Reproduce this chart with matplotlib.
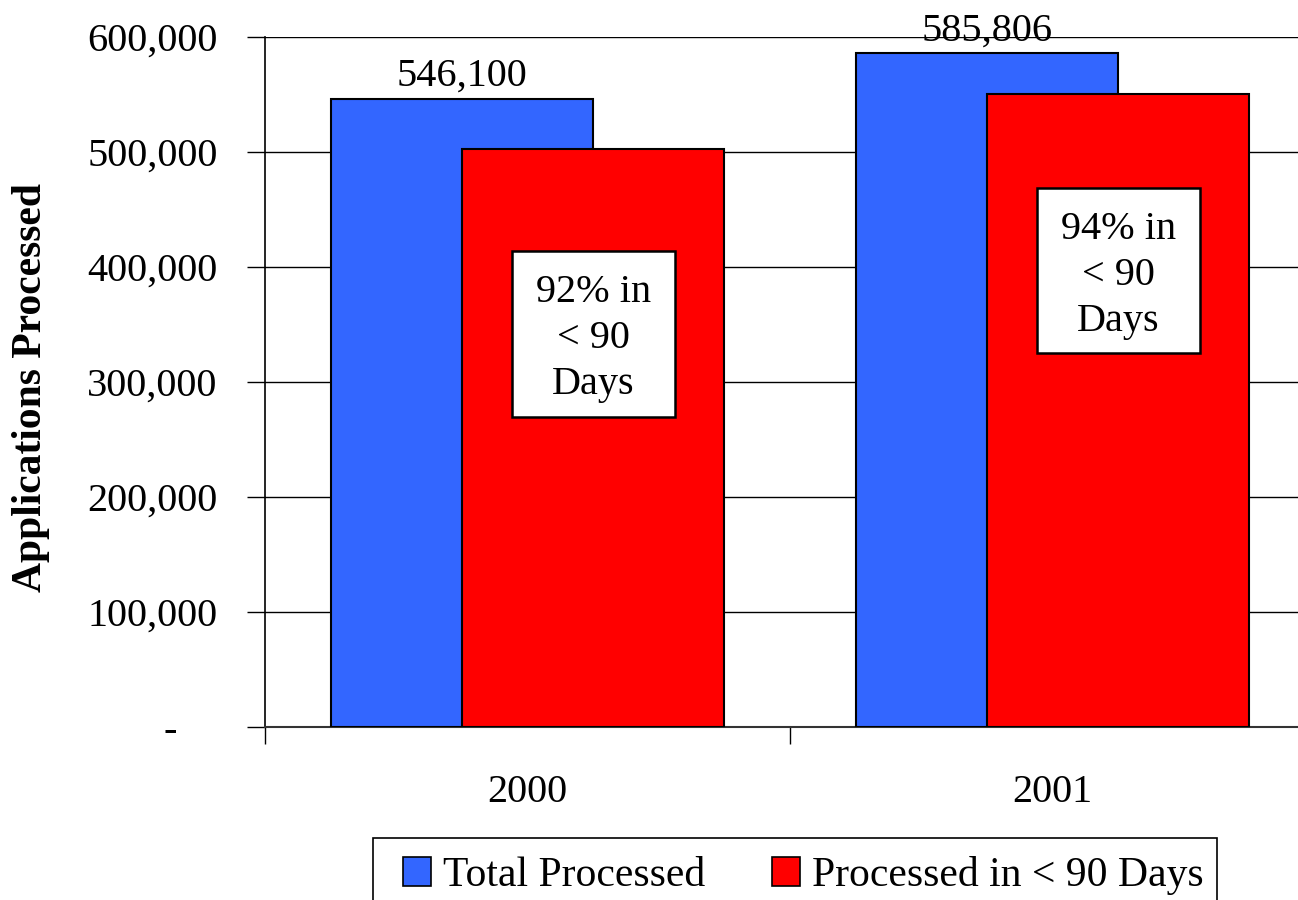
import matplotlib
matplotlib.use("Agg")
import matplotlib.pyplot as plt
from matplotlib.patches import Patch, Rectangle
from matplotlib.ticker import FixedLocator

plt.rcParams['font.family'] = ['Liberation Serif', 'DejaVu Serif']

categories = ["2000", "2001"]
total_processed = [546100, 585806]
processed_90 = [502400, 550700]
pct_labels = ["92% in\n< 90\nDays", "94% in\n< 90\nDays"]
pct_label_y = [342000, 397000]
yticks = [0, 100000, 200000, 300000, 400000, 500000, 600000]
ytick_labels = ["-    ", "100,000", "200,000", "300,000", "400,000", "500,000", "600,000"]

blue = "#3366FF"
red = "#FF0000"
FS = 29

W, H = 1298, 900
fig = plt.figure(figsize=(W / 100, H / 100), dpi=100)
ax = fig.add_axes([265 / W, 1 - 727 / H, 1050 / W, 690 / H])

x = list(range(len(categories)))
bw = 0.5
off = 0.125
ax.bar([i - off for i in x], total_processed, width=bw, color=blue,
       edgecolor="black", linewidth=1.5, zorder=3)
ax.bar([i + off for i in x], processed_90, width=bw, color=red,
       edgecolor="black", linewidth=1.5, zorder=4)

for i, v in zip(x, total_processed):
    ax.annotate(f"{v:,}", (i - off, v), xytext=(0, 3), textcoords="offset points",
                ha="center", va="bottom", fontsize=FS, zorder=6, annotation_clip=False)

box_w = 0.31
box_h = 144000
for i, (t, yy) in enumerate(zip(pct_labels, pct_label_y)):
    ax.add_patch(Rectangle((i + off - box_w / 2, yy - box_h / 2), box_w, box_h,
                           facecolor="white", edgecolor="black", linewidth=1.8, zorder=5))
    ax.text(i + off, yy - 4500, t, ha="center", va="center", fontsize=FS, zorder=6,
            linespacing=1.32, multialignment="center")

ax.set_xlim(-0.5, 1.5)
ax.set_ylim(0, 600000)
ax.set_yticks(yticks)
ax.set_yticklabels(ytick_labels, fontsize=FS)
ax.yaxis.grid(True, color="black", linewidth=1.0, zorder=0)
ax.set_axisbelow(True)

ax.xaxis.set_major_locator(FixedLocator([-0.5, 0.5, 1.5]))
ax.xaxis.set_minor_locator(FixedLocator(x))
ax.set_xticklabels([])
ax.set_xticklabels(categories, minor=True, fontsize=FS)
ax.tick_params(axis="x", which="major", length=12, width=1, color="black", direction="out")
ax.tick_params(axis="x", which="minor", length=0, pad=34)
ax.tick_params(axis="y", length=13, width=1, direction="out", pad=21)

for s in ["top", "right"]:
    ax.spines[s].set_visible(False)
ax.spines["left"].set_linewidth(1.2)
ax.spines["bottom"].set_linewidth(1.5)
ax.spines["bottom"].set_color("#333333")

fig.text(31 / W, 1 - 388 / H, "Applications Processed", rotation=90,
         ha="center", va="center", fontsize=30, fontweight="bold")

# legend frame (clipped by the figure bottom as in the reference)
fig.patches.append(Rectangle((373 / W, -0.05), (1217 - 373) / W, (1 - 838 / H) + 0.05,
                             transform=fig.transFigure, fill=False,
                             edgecolor="black", linewidth=1.2))
handles = [Patch(facecolor=blue, edgecolor="black", linewidth=1.2),
           Patch(facecolor=red, edgecolor="black", linewidth=1.2)]
leg = fig.legend(handles, ["Total Processed", "Processed in < 90 Days"],
                 loc="upper left", bbox_to_anchor=(403 / W, 1 - 856 / H),
                 ncol=2, fontsize=30, frameon=False,
                 handlelength=0.67, handleheight=0.67,
                 handletextpad=0.29, columnspacing=1.6, borderaxespad=0,
                 borderpad=0)

fig.savefig("out.png", dpi=100)
